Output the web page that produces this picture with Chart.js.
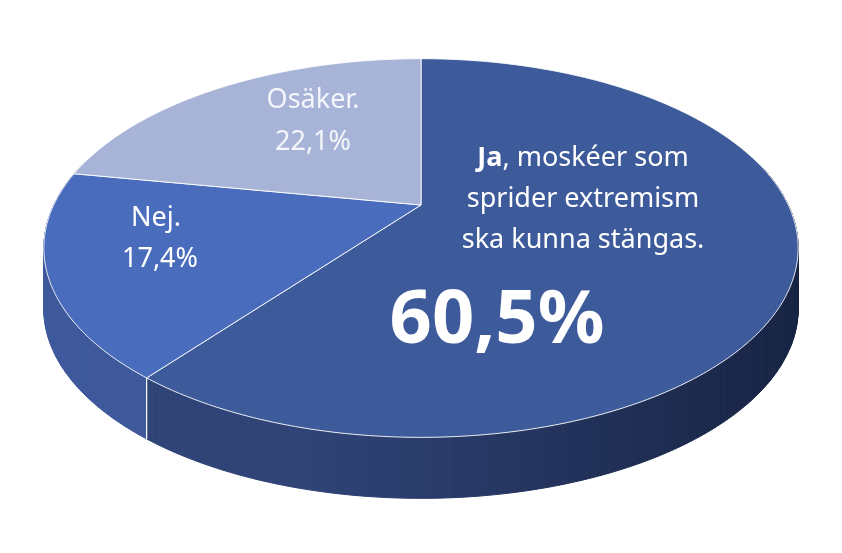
<!DOCTYPE html>
<html><head><meta charset="utf-8">
<script src="https://cdn.jsdelivr.net/npm/chart.js@4"></script>
<style>
html,body{margin:0;background:#fff;}
</style></head><body>
<canvas id="c" width="842" height="553" style="width:842px;height:553px"></canvas>
<script>
const labels = ["Ja", "Nej.", "Osäker."];
const values = [60.5, 17.4, 22.1];
const topColors = ["#3d5a9b", "#4a6cbd", "#a7b3d7"];
const sideColors = [["#2f4376", "#172343"], ["#3d589b", "#2d4479"], ["#8390b0", "#6c7796"]];

// perspektiv för "3D"-pajen
const CX = 421, CY = 205, PX = 1616, PY = 790, DIST = 4.4, DEPTH = 61;
const fmt = v => v.toFixed(1).replace(".", ",") + "%";

// vinkel i canvas-radianer (start -π/2 = klockan tolv) -> skärmpunkt
function project(a){
  const th = a + Math.PI / 2;
  const u = Math.sin(th), v = Math.cos(th);
  const z = DIST + v;
  return [CX + PX * u / z, CY - PY * v / z];
}

function slicePoints(s, e){
  const n = Math.max(4, Math.ceil((e - s) / 0.01));
  const pts = [];
  for (let k = 0; k <= n; k++) pts.push(s + (e - s) * k / n);
  return pts;
}

const tilt3d = {
  id: "tilt3d",
  beforeDatasetsDraw(){ return false; },
  afterDraw(chart){
    const ctx = chart.ctx;
    const meta = chart.getDatasetMeta(0);
    // sidovägg
    meta.data.forEach((el, i) => {
      const g = ctx.createLinearGradient(800, 0, 43, 0);
      g.addColorStop(0, sideColors[i][1]);
      g.addColorStop(0.65, sideColors[i][0]);
      g.addColorStop(1, sideColors[i][0]);
      ctx.fillStyle = g;
      ctx.strokeStyle = g;
      ctx.lineWidth = 1;
      const angs = slicePoints(el.startAngle, el.endAngle);
      for (let k = 0; k < angs.length - 1; k++){
        const th = angs[k] + Math.PI / 2;
        if (Math.cos(th) > 0.25) continue;
        const [x1, y1] = project(angs[k]);
        const [x2, y2] = project(angs[k + 1]);
        ctx.beginPath();
        ctx.moveTo(x1, y1); ctx.lineTo(x2, y2);
        ctx.lineTo(x2, y2 + DEPTH); ctx.lineTo(x1, y1 + DEPTH);
        ctx.closePath(); ctx.fill(); ctx.stroke();
      }
    });
    // vita skarvar på sidan
    ctx.strokeStyle = "#ffffff"; ctx.lineWidth = 1.2;
    meta.data.forEach(el => {
      const th = el.startAngle + Math.PI / 2;
      if (Math.cos(th) < -0.05){
        const [x, y] = project(el.startAngle);
        ctx.beginPath(); ctx.moveTo(x, y); ctx.lineTo(x, y + DEPTH); ctx.stroke();
      }
    });
    // ovansida
    meta.data.forEach((el, i) => {
      ctx.beginPath();
      ctx.moveTo(CX, CY);
      slicePoints(el.startAngle, el.endAngle).forEach(a => {
        const [x, y] = project(a);
        ctx.lineTo(x, y);
      });
      ctx.closePath();
      ctx.fillStyle = topColors[i];
      ctx.fill();
      ctx.strokeStyle = "rgba(255,255,255,0.9)";
      ctx.lineWidth = 1;
      ctx.stroke();
    });

    // etiketter
    ctx.save();
    ctx.fillStyle = "#ffffff";
    ctx.textBaseline = "middle";
    const f = "'Noto Sans', 'Open Sans', sans-serif";
    const rest = ", moskéer som";
    ctx.font = "bold 27px " + f;
    const wB = ctx.measureText(labels[0]).width;
    ctx.font = "27px " + f;
    const wR = ctx.measureText(rest).width;
    const x0 = 583 - (wB + wR) / 2;
    ctx.textAlign = "left";
    ctx.font = "bold 27px " + f;
    ctx.fillText(labels[0], x0, 158);
    ctx.font = "27px " + f;
    ctx.fillText(rest, x0 + wB, 158);
    ctx.textAlign = "center";
    ctx.fillText("sprider extremism", 583, 199);
    ctx.fillText("ska kunna stängas.", 583, 240);
    ctx.font = "bold 74px " + f;
    ctx.fillText(fmt(values[0]), 497, 322);
    ctx.font = "27px " + f;
    ctx.fillText(labels[1], 156, 218);
    ctx.fillText(fmt(values[1]), 160, 259);
    ctx.fillStyle = "#f4f6fb";
    ctx.fillText(labels[2], 313, 100);
    ctx.fillText(fmt(values[2]), 313, 142);
    ctx.restore();
  }
};

new Chart(document.getElementById("c"), {
  type: "pie",
  data: {
    labels: labels,
    datasets: [{ data: values, backgroundColor: topColors, borderWidth: 0 }]
  },
  options: {
    responsive: false,
    animation: false,
    rotation: 0,
    plugins: { legend: { display: false }, tooltip: { enabled: false } }
  },
  plugins: [tilt3d]
});
</script>
</body></html>
